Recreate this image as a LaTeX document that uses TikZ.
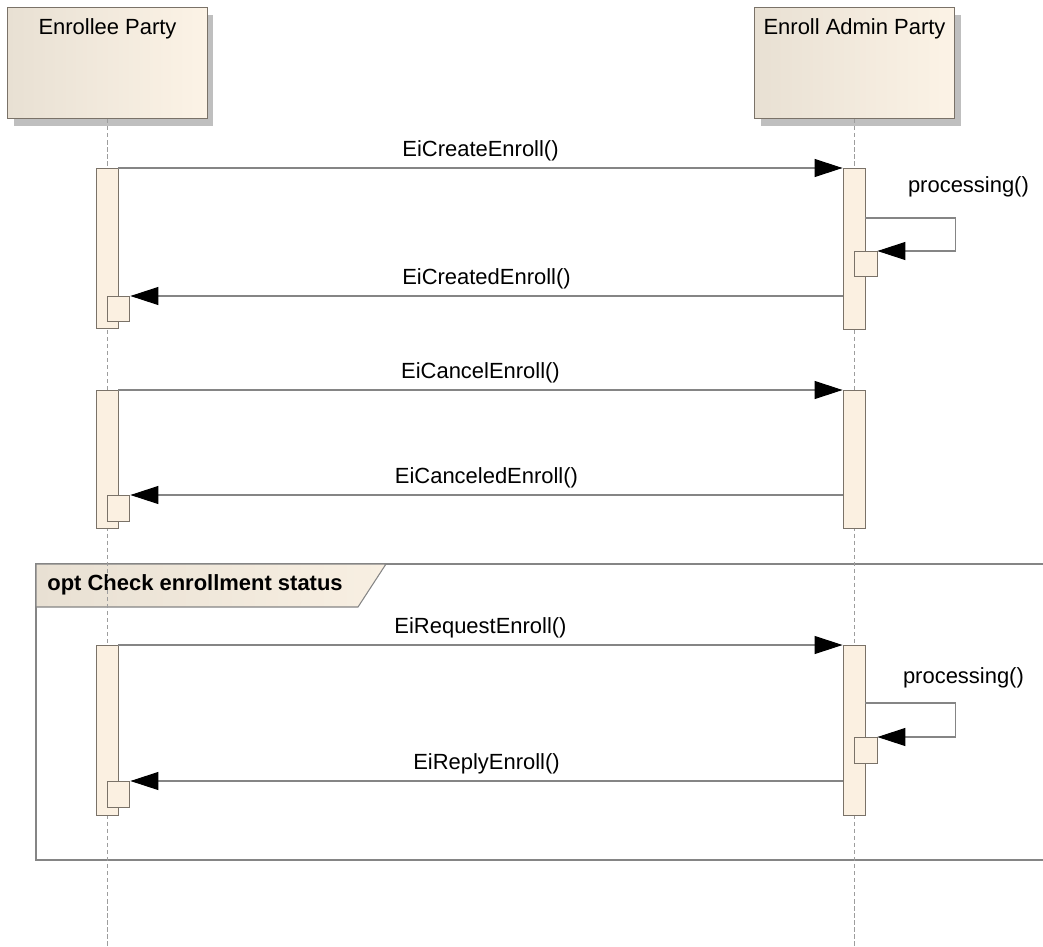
\documentclass[tikz,border=0pt]{standalone}
\usepackage{fontspec}
\setmainfont{Liberation Sans}
\usetikzlibrary{arrows.meta, shadows, calc}

\definecolor{actorleft}{HTML}{E8E0D3}
\definecolor{actorright}{HTML}{FCF3E6}
\definecolor{barfill}{HTML}{FBF0E1}
\definecolor{linegray}{HTML}{858585}
\definecolor{edgegray}{HTML}{7A7268}

\begin{document}
\begin{tikzpicture}[
    x=0.02cm, y=-0.02cm,
    font=\fontsize{12.5}{15}\selectfont,
    actor/.style={draw=edgegray, line width=0.6pt, rectangle, minimum width=4cm, minimum height=2.22cm, inner sep=0pt, anchor=north west, left color=actorleft, right color=actorright, drop shadow={shadow xshift=0.12cm, shadow yshift=-0.14cm, fill=black!25, opacity=1}},
    actorname/.style={anchor=north, yshift=-3pt},
    actbar/.style={draw=edgegray, fill=barfill, line width=0.5pt, rectangle, minimum width=0.44cm, inner sep=0pt, anchor=north},
    execbox/.style={draw=edgegray, fill=barfill, line width=0.5pt, rectangle, minimum width=0.45cm, minimum height=0.51cm, inner sep=0pt, anchor=north west},
    lifeline/.style={draw=linegray!80, line width=0.5pt, dash pattern=on 2.5pt off 1.5pt},
    msg/.style={draw=linegray, line width=0.6pt, -{Triangle[length=0.56cm, width=0.36cm, color=black]}},
    msglabel/.style={above, inner sep=3.4pt},
    frame/.style={draw=linegray, line width=0.7pt},
    tabbox/.style={draw=linegray, line width=0.6pt, left color=actorleft, right color=actorright!80!actorleft},
    tablabel/.style={anchor=base west, font=\fontsize{12.5}{15}\selectfont\bfseries, inner sep=0pt}
]
    \useasboundingbox (0,0) rectangle (1043,946);

    % Optional fragment
    \coordinate (optTR) at (1043,564);
    \coordinate (optBR) at (1043,860);
    \draw[frame] (optTR) -- (36,564) -- (36,860) -- (optBR);
    \draw[tabbox] (36,564) -- (386,564) -- (358,607) -- (36,607) -- cycle;
    \node[tablabel] (optname) at (47,590) {opt Check enrollment status};

    % Parties
    \node[actor] (enrollee) at (7,7) {};
    \node[actor] (admin) at (754,7) {};
    \node[actorname] (enrolleename) at (enrollee.north) {Enrollee Party};
    \node[actorname] (adminname) at (admin.north) {Enroll Admin Party};

    % Lifelines
    \coordinate (bottom) at (0,946);
    \draw[lifeline] (enrollee.south) -- (enrollee.south |- bottom);
    \draw[lifeline] (admin.south) -- (admin.south |- bottom);

    % Create
    \node[actbar, minimum height=3.2cm] (eb1) at (107,168) {};
    \node[actbar, minimum height=3.22cm] (ab1) at (854,168) {};
    \node[execbox] (ax1) at (854,251) {};
    \node[execbox] (ex1) at (107,296) {};
    \draw[msg] (eb1.north east) -- (ab1.north west) node[msglabel, midway] {EiCreateEnroll()};
    \draw[msg] ($(ab1.north east)+(0,50)$) -- ++(90,0) node[msglabel, above=8pt, xshift=0.26cm] {processing()} |- (ax1.north east);
    \draw[msg] (ab1.west |- ex1.north east) -- (ex1.north east) node[msglabel, midway] {EiCreatedEnroll()};

    % Cancel
    \node[actbar, minimum height=2.76cm] (eb2) at (107,390) {};
    \node[actbar, minimum height=2.76cm] (ab2) at (854,390) {};
    \node[execbox] (ex2) at (107,495) {};
    \draw[msg] (eb2.north east) -- (ab2.north west) node[msglabel, midway] {EiCancelEnroll()};
    \draw[msg] (ab2.west |- ex2.north east) -- (ex2.north east) node[msglabel, midway] {EiCanceledEnroll()};

    % Request (optional)
    \node[actbar, minimum height=3.4cm] (eb3) at (107,645) {};
    \node[actbar, minimum height=3.4cm] (ab3) at (854,645) {};
    \node[execbox] (ax3) at (854,737) {};
    \node[execbox] (ex3) at (107,781) {};
    \draw[msg] (eb3.north east) -- (ab3.north west) node[msglabel, midway] {EiRequestEnroll()};
    \draw[msg] ($(ab3.north east)+(0,58)$) -- ++(90,0) node[msglabel, above=4.6pt, xshift=0.16cm] {processing()} |- (ax3.north east);
    \draw[msg] (ab3.west |- ex3.north east) -- (ex3.north east) node[msglabel, midway] {EiReplyEnroll()};
\end{tikzpicture}
\end{document}
